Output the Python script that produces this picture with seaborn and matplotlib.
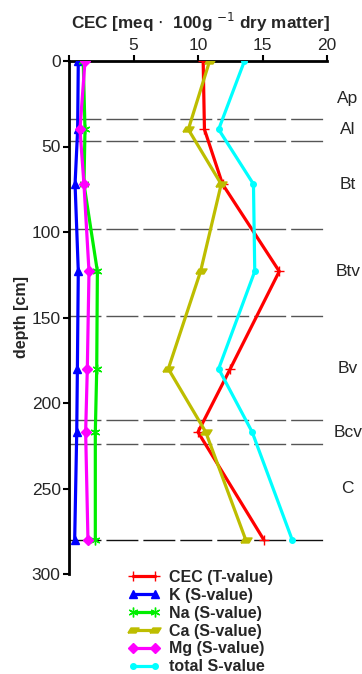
import matplotlib
matplotlib.use("Agg")
import matplotlib.pyplot as plt
import pandas as pd
import seaborn as sns

# sample depths [cm]
depth = [0, 40, 72, 123, 180, 217, 280]

cec = [10.4, 10.5, 11.9, 16.3, 12.5, 10.0, 15.1]
k_val = [0.72, 0.67, 0.47, 0.72, 0.65, 0.60, 0.44]
na_val = [1.10, 1.24, 1.16, 2.20, 2.15, 2.04, 2.04]
ca_val = [10.9, 9.25, 11.8, 10.2, 7.7, 10.6, 13.7]
mg_val = [1.24, 0.85, 1.16, 1.55, 1.42, 1.29, 1.47]
total_s = [13.6, 11.6, 14.3, 14.4, 11.6, 14.2, 17.3]

# horizon boundaries and labels
boundaries = [34, 47, 98, 149, 210, 224]
bottom_line = 280
horizons = ["Ap", "Al", "Bt", "Btv", "Bv", "Bcv", "C"]
horizon_depth = [22, 40, 72, 123, 180, 217, 250]

x_ticks = [0, 5, 10, 15, 20]
y_ticks = [0, 50, 100, 150, 200, 250, 300]

sns.set_style("ticks")
plt.rcParams["font.family"] = ["Liberation Sans", "DejaVu Sans"]

# parallelogram marker for Ca
para = [(-1.0, -0.45), (0.45, -0.45), (1.0, 0.45), (-0.45, 0.45), (-1.0, -0.45)]
star = (6, 2, 0)

series = [
    ("CEC (T-value)", cec, "#ff0000", "+", 7),
    ("K (S-value)", k_val, "#0000ff", "^", 6),
    ("Na (S-value)", na_val, "#00ee00", star, 7),
    ("Ca (S-value)", ca_val, "#bdbd00", para, 8),
    ("Mg (S-value)", mg_val, "#ff00ff", "D", 5),
    ("total S-value", total_s, "#00ffff", "o", 4),
]

fig = plt.figure(figsize=(3.62, 6.74), dpi=100)
ax = fig.add_axes([69 / 362, 1 - 574 / 674, 258 / 362, 513 / 674])

for d in boundaries:
    ax.axhline(d, color="#555555", lw=1.0, dashes=(23, 3.6), zorder=1)
ax.axhline(bottom_line, color="#111111", lw=1.0, dashes=(23, 3.6), zorder=1)

for name, vals, col, mk, ms in series:
    df = pd.DataFrame({"value": vals, "depth": depth})
    sns.lineplot(data=df, x="value", y="depth", sort=False, estimator=None,
                 color=col, lw=2.3, marker=mk, markersize=ms,
                 markeredgecolor=col, markerfacecolor=col,
                 markeredgewidth=1.0, label=name, ax=ax, zorder=3)

ax.set_xlim(0, 20)
ax.set_ylim(300, 0)
ax.set_xticks(x_ticks)
ax.set_xticklabels([""] + [str(t) for t in x_ticks[1:]])
ax.set_yticks(y_ticks)
ax.xaxis.tick_top()
ax.tick_params(axis="both", labelsize=12.5, direction="out", length=4,
               width=1.5, color="black", pad=2)
for side in ["right", "bottom"]:
    ax.spines[side].set_visible(False)
for side in ["top", "left"]:
    ax.spines[side].set_linewidth(2.0)
    ax.spines[side].set_color("black")

fig.text(200 / 362, 1 - 22 / 674, "CEC [meq $\\cdot$  100g $^{-1}$ dry matter]",
         fontsize=12.3, fontweight="bold", ha="center", va="center")
ax.set_ylabel("depth [cm]", fontsize=11.5, fontweight="bold", labelpad=2)
ax.set_xlabel("")

for lab, d in zip(horizons, horizon_depth):
    ax.text(21.6, d, lab, fontsize=12.5, ha="center", va="center", clip_on=False)

ax.get_legend().remove()
handles, labels = ax.get_legend_handles_labels()
fig.legend(handles, labels, loc="upper left",
           bbox_to_anchor=(120 / 362, 1 - 562 / 674), frameon=False,
           numpoints=2, handlelength=2.0, handletextpad=0.55,
           labelspacing=0.18, borderpad=0,
           prop={"weight": "bold", "size": 11.5})

fig.savefig("out.png", dpi=100)
